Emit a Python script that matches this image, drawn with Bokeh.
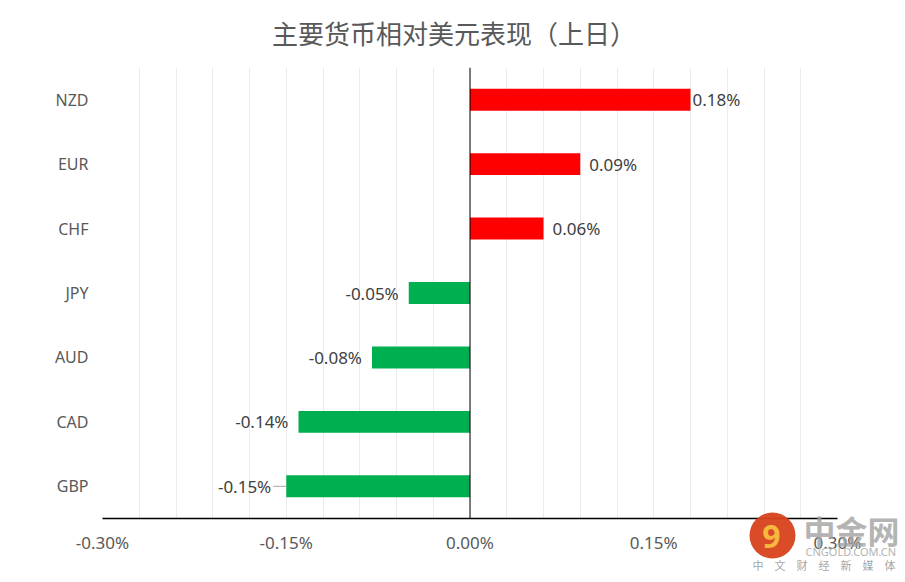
from bokeh.plotting import figure
from bokeh.layouts import column
from bokeh.models import (FactorRange, Range1d, Span, FixedTicker,
                          PrintfTickFormatter, ColumnDataSource)
from bokeh.embed import file_html
from bokeh.resources import INLINE
from bokeh.core.properties import value

# ---- data ----
title_text = "主要货币相对美元表现（上日）"
currencies = ["NZD", "EUR", "CHF", "JPY", "AUD", "CAD", "GBP"]
changes = [0.18, 0.09, 0.06, -0.05, -0.08, -0.14, -0.15]
x_ticks = [-0.30, -0.15, 0.0, 0.15, 0.30]
x_min, x_max = -0.30, 0.30
grid_step = 0.03

# ---- styles ----
POS = "#ff0000"
NEG = "#00b050"
label_gap = [2, 9, 9, 10, 10, 10, 15]  # px gap between bar end and label
leader = [False, False, False, False, False, False, True]
LATIN = "Noto Sans"
CJK = "Noto Sans CJK SC"

W, H = 905, 582
TITLE_H = 67
ML, MR, MB = 102, 68, 64
px_per_unit = (W - ML - MR) / (x_max - x_min)


def no_frame_align(fig):
    try:
        fig.frame_align = False
    except Exception:
        pass


colors = [POS if v >= 0 else NEG for v in changes]
aligns = ["left" if v >= 0 else "right" for v in changes]
offsets = [g if v >= 0 else -g for g, v in zip(label_gap, changes)]
texts = ["%.2f%%" % v for v in changes]

src = ColumnDataSource(dict(cur=currencies, val=changes, color=colors,
                            align=aligns, xoff=offsets, txt=texts))

# ---- title strip ----
tf = figure(width=W, height=TITLE_H, x_range=Range1d(0, W), y_range=Range1d(0, TITLE_H),
            output_backend="svg", toolbar_location=None,
            x_axis_location=None, y_axis_location=None, min_border=0)
tf.outline_line_color = None
tf.grid.grid_line_color = None
tf.text(x=[W / 2 + 1], y=[TITLE_H - 32], text=[title_text], text_align="center",
        text_baseline="middle", text_font=value(CJK), text_font_size="26px",
        text_color="#595959")
no_frame_align(tf)

# ---- main chart ----
p = figure(width=W, height=H - TITLE_H,
           y_range=FactorRange(factors=list(reversed(currencies))),
           x_range=Range1d(x_min, x_max),
           output_backend="svg", toolbar_location=None,
           min_border_left=ML, min_border_right=MR,
           min_border_top=0, min_border_bottom=MB)
p.outline_line_color = None
p.background_fill_color = "white"
p.border_fill_color = "white"
no_frame_align(p)

# grid
n_grid = int(round((x_max - x_min) / grid_step))
p.xgrid.ticker = FixedTicker(ticks=[round(x_min + i * grid_step, 4) for i in range(n_grid + 1)])
p.xgrid.grid_line_color = "#ebebeb"
p.xgrid.grid_line_width = 1
p.ygrid.grid_line_color = None

# x axis
p.xaxis.ticker = FixedTicker(ticks=x_ticks)
p.xaxis.formatter = PrintfTickFormatter(format="%.2f%%")
p.xaxis.axis_line_color = "black"
p.xaxis.axis_line_width = 1.5
p.xaxis.major_tick_line_color = None
p.xaxis.minor_tick_line_color = None
p.xaxis.major_tick_out = 0
p.xaxis.minor_tick_out = 0
p.xaxis.major_label_standoff = 12
p.xaxis.major_label_text_font = LATIN
p.xaxis.major_label_text_font_size = "17px"
p.xaxis.major_label_text_color = "#595959"

# y axis
p.yaxis.axis_line_color = None
p.yaxis.major_tick_line_color = None
p.yaxis.minor_tick_line_color = None
p.yaxis.major_tick_out = 0
p.yaxis.minor_tick_out = 0
p.yaxis.major_label_standoff = 14
p.yaxis.major_label_text_font = LATIN
p.yaxis.major_label_text_font_size = "16px"
p.yaxis.major_label_text_color = "#595959"

# zero line
p.add_layout(Span(location=0, dimension="height", line_color="black", line_width=1))

# bars
p.hbar(y="cur", left=0, right="val", height=0.34, fill_color="color",
       line_color=None, source=src)

# leader lines for moved labels
ld_cur = [c for c, f in zip(currencies, leader) if f]
ld_x0 = [v for v, f in zip(changes, leader) if f]
ld_x1 = [v + (o + (2 if o < 0 else -2)) / px_per_unit
         for v, o, f in zip(changes, offsets, leader) if f]
p.segment(x0=ld_x0, x1=ld_x1, y0=ld_cur, y1=ld_cur, line_color="#a6a6a6", line_width=1)

# data labels
p.text(x="val", y="cur", text="txt", x_offset="xoff", text_align="align",
       text_baseline="middle", text_font=value(LATIN), text_font_size="17px",
       text_color="#404040", source=src)

# ---- watermark overlay (full-width transparent strip at the bottom) ----
WM_H = 75
wm = figure(width=W, height=WM_H, x_range=Range1d(0, W), y_range=Range1d(0, WM_H),
            output_backend="svg", toolbar_location=None,
            x_axis_location=None, y_axis_location=None,
            min_border=0, margin=(-WM_H, 0, 0, 0))
wm.outline_line_color = None
wm.background_fill_alpha = 0
wm.border_fill_alpha = 0
wm.grid.grid_line_color = None
no_frame_align(wm)
wm.circle(x=[772], y=[47], radius=23, fill_color="#d8411c", line_color=None, fill_alpha=0.95)
wm.text(x=[771], y=[46], text=["9"], text_align="center", text_baseline="middle",
        text_font=value(LATIN), text_font_style="bold", text_font_size="32px",
        text_color="#f6b83c")
wm.text(x=[803], y=[53], text=["中金网"], text_align="left", text_baseline="middle",
        text_font=value(CJK), text_font_style="bold", text_font_size="32px",
        text_color="#a0a0a0", text_alpha=0.8)
wm.text(x=[805], y=[31], text=["CNGOLD.COM.CN"], text_align="left", text_baseline="middle",
        text_font=value(LATIN), text_font_size="11px", text_color="#b3b3b3")
wm.text(x=[752], y=[18], text=["中　文　财　经　新　媒　体"], text_align="left",
        text_baseline="middle", text_font=value(CJK), text_font_size="11px",
        text_color="#a6a6a6")

layout = column(tf, p, wm, spacing=0)
open("out.html", "w").write(file_html(layout, INLINE))
